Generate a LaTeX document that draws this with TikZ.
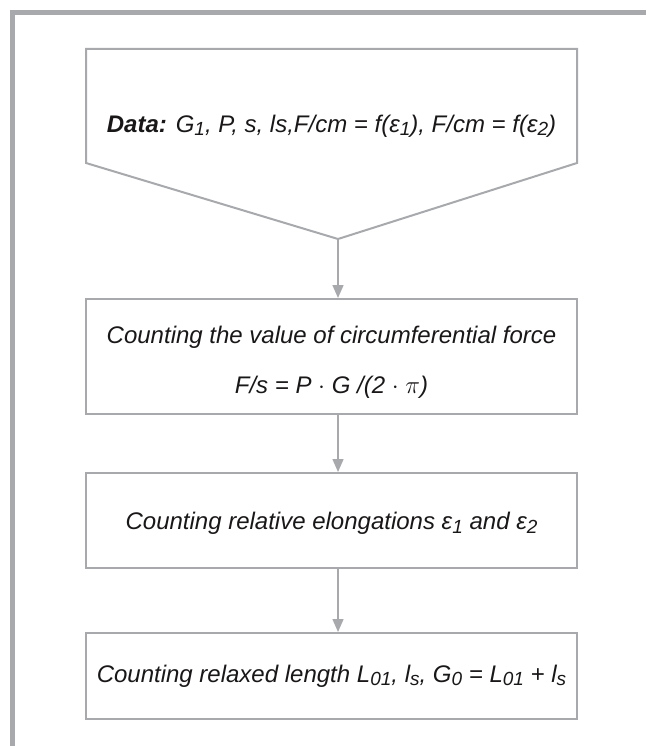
\documentclass[tikz,border=0pt]{standalone}
\usepackage{fontspec}
\setmainfont{Liberation Sans}
\usetikzlibrary{arrows.meta}
\definecolor{frame}{HTML}{A7A9AC}
\definecolor{txt}{HTML}{1A1718}
\tikzset{
  box/.style={draw=frame, line width=2pt, minimum width=491pt, inner sep=0pt, align=center,
    font=\fontsize{24}{29}\selectfont\itshape, text=txt},
  arr/.style={draw=frame, line width=1.5pt, -{Triangle[length=13pt,width=11pt]}},
  lbl/.style={inner sep=0pt, font=\fontsize{24}{29}\selectfont\itshape, text=txt}
}
\newcommand{\sbs}[1]{\raisebox{-0.28ex}{\fontsize{19}{20}\selectfont #1}}
\begin{document}
\begin{tikzpicture}[x=1pt,y=-1pt]
\useasboundingbox (0,0) rectangle (646,746);
% outer frame
\draw[frame, line width=4.5pt] (12.5,746) -- (12.5,12.5) -- (646,12.5);
% data shape
\draw[frame, line width=2pt, line join=miter] (86,163) -- (86,49) -- (577,49) -- (577,163) -- (338,239) -- cycle;
\coordinate (apex) at (338,239);
\node[lbl] (data) at (331.5,126) {\textbf{Data:} G\sbs{1}, P, s, ls,F/cm = f(ε\sbs{1}), F/cm = f(ε\sbs{2})};
% boxes
\node[box, minimum height=115pt] (b2) at (331.5,356.5) {\raisebox{-6pt}[\height][\depth]{\begin{tabular}{@{}c@{}}Counting the value of circumferential force\\[21pt] F/s = P $\cdot$ G /(2 $\cdot$ $\pi$)\end{tabular}}};
\node[box, minimum height=95pt] (b3) at (331.5,520.5) {\raisebox{-3pt}[\height][\depth]{Counting relative elongations ε\sbs{1} and ε\sbs{2}}};
\node[box, minimum height=86pt] (b4) at (331.5,676) {Counting relaxed length L\sbs{01}, l\sbs{s}, G\sbs{0} = L\sbs{01} + l\sbs{s}};
% arrows
\draw[arr] (apex) -- (apex |- b2.north);
\draw[arr] (apex |- b2.south) -- (apex |- b3.north);
\draw[arr] (apex |- b3.south) -- (apex |- b4.north);
\end{tikzpicture}
\end{document}
